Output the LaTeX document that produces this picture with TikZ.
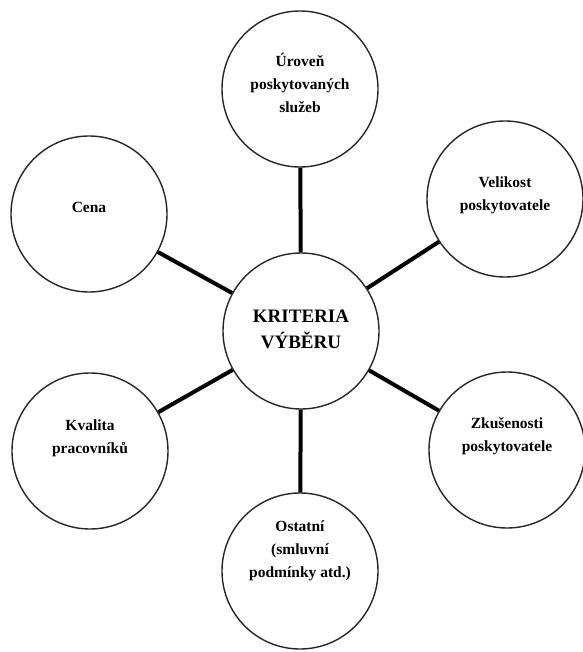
\documentclass[tikz,border=0pt]{standalone}
\usepackage{fontspec}
\setmainfont{Liberation Serif}
\begin{document}
\begin{tikzpicture}[x=1pt,y=-1pt,
  bubble/.style={circle,draw=black!85,line width=1.4pt,minimum size=156pt,inner sep=0pt,fill=white},
  label/.style={align=center,font=\bfseries\fontsize{15.5}{23}\selectfont,inner sep=0pt},
  biglabel/.style={align=center,font=\bfseries\fontsize{19}{26}\selectfont,inner sep=0pt},
  link/.style={line width=4pt,black}]
\useasboundingbox (0,0) rectangle (582,652);

% circles
\node[bubble] (mid)   at (301,331) {};
\node[bubble] (top)   at (300,89)  {};
\node[bubble] (cena)  at (89,214)  {};
\node[bubble] (size)  at (505,199) {};
\node[bubble] (staff) at (90,451)  {};
\node[bubble] (exp)   at (507,450) {};
\node[bubble] (other) at (300,571) {};

% spokes
\draw[link] (mid) -- (top);
\draw[link] (mid) -- (cena);
\draw[link] (mid) -- (size);
\draw[link] (mid) -- (staff);
\draw[link] (mid) -- (exp);
\draw[link] (mid) -- (other);

% texts
\node[biglabel] (tmid)   at (301,329) {KRITERIA\\VÝBĚRU};
\node[label]    (ttop)   at (300,83)  {Úroveň\\poskytovaných\\služeb};
\node[label]    (tcena)  at (89,207)  {Cena};
\node[label]    (tsize)  at (505,195) {Velikost\\poskytovatele};
\node[label]    (tstaff) at (90,438)  {Kvalita\\pracovníků};
\node[label]    (texp)   at (507,436) {Zkušenosti\\poskytovatele};
\node[label]    (tother) at (300,551) {Ostatní\\(smluvní\\podmínky atd.)};
\end{tikzpicture}
\end{document}
